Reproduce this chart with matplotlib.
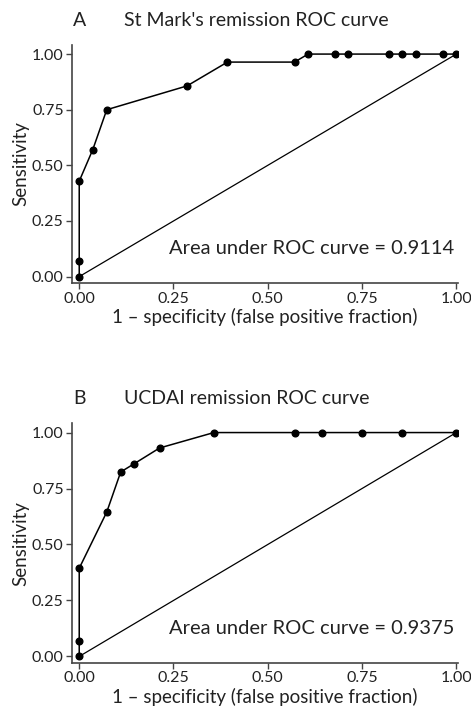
import matplotlib.pyplot as plt
import numpy as np
plt.rcParams['font.family'] = ['Lato', 'DejaVu Sans']

# ROC points, panel A (St Mark's)
fpr_a = [0.0, 0.0, 0.0, 0.036, 0.073, 0.286, 0.393, 0.571, 0.607, 0.679, 0.714, 0.821, 0.857, 0.893, 0.964, 1.0]
tpr_a = [0.0, 0.071, 0.429, 0.571, 0.75, 0.857, 0.964, 0.964, 1.0, 1.0, 1.0, 1.0, 1.0, 1.0, 1.0, 1.0]

# ROC points, panel B (UCDAI)
fpr_b = [0.0, 0.0, 0.0, 0.073, 0.110, 0.145, 0.213, 0.357, 0.571, 0.643, 0.75, 0.857, 1.0]
tpr_b = [0.0, 0.069, 0.394, 0.645, 0.824, 0.86, 0.931, 1.0, 1.0, 1.0, 1.0, 1.0, 1.0]

panels = [
    ('A', "St Mark's remission ROC curve", fpr_a, tpr_a, 0.9114),
    ('B', 'UCDAI remission ROC curve', fpr_b, tpr_b, 0.9375),
]
ticks = [0.0, 0.25, 0.5, 0.75, 1.0]
tick_labels = ['0.00', '0.25', '0.50', '0.75', '1.00']

fig = plt.figure(figsize=(4.71, 7.10), dpi=100)
boxes = [[0.153, 0.601, 0.819, 0.336], [0.153, 0.066, 0.819, 0.338]]
title_y = [1 - 20 / 710, 1 - 398 / 710]

for (letter, title, fpr, tpr, auc), box, ty in zip(panels, boxes, title_y):
    ax = fig.add_axes(box)
    ax.plot([0, 1], [0, 1], color='black', linewidth=0.9)
    ax.plot(fpr, tpr, color='black', linewidth=1.1, marker='o', markersize=4.8)
    ax.set_xlim(-0.019, 1.004)
    ax.set_ylim(-0.03, 1.042)
    ax.set_xticks(ticks)
    ax.set_xticklabels(tick_labels)
    ax.set_yticks(ticks)
    ax.set_yticklabels(tick_labels)
    for s in ['top', 'right']:
        ax.spines[s].set_visible(False)
    for s in ['left', 'bottom']:
        ax.spines[s].set_color('#444444')
        ax.spines[s].set_linewidth(1.2)
    ax.tick_params(direction='out', length=4, width=1, colors='#444444',
                   labelcolor='#222222', labelsize=11.5, pad=2)
    ax.set_xlabel('1 \u2013 specificity (false positive fraction)', fontsize=13.5,
                  color='#222222', labelpad=2)
    ax.set_ylabel('Sensitivity', fontsize=13.5, color='#222222', labelpad=2)
    ax.text(0.995, 0.125, f'Area under ROC curve = {auc:.4f}', fontsize=14.5,
            color='#222222', ha='right', va='center')
    fig.text(73 / 471, ty, letter, fontsize=14, color='#222222', va='center')
    fig.text(124 / 471, ty, title, fontsize=14, color='#222222', va='center')

plt.savefig('out.png', dpi=100)
